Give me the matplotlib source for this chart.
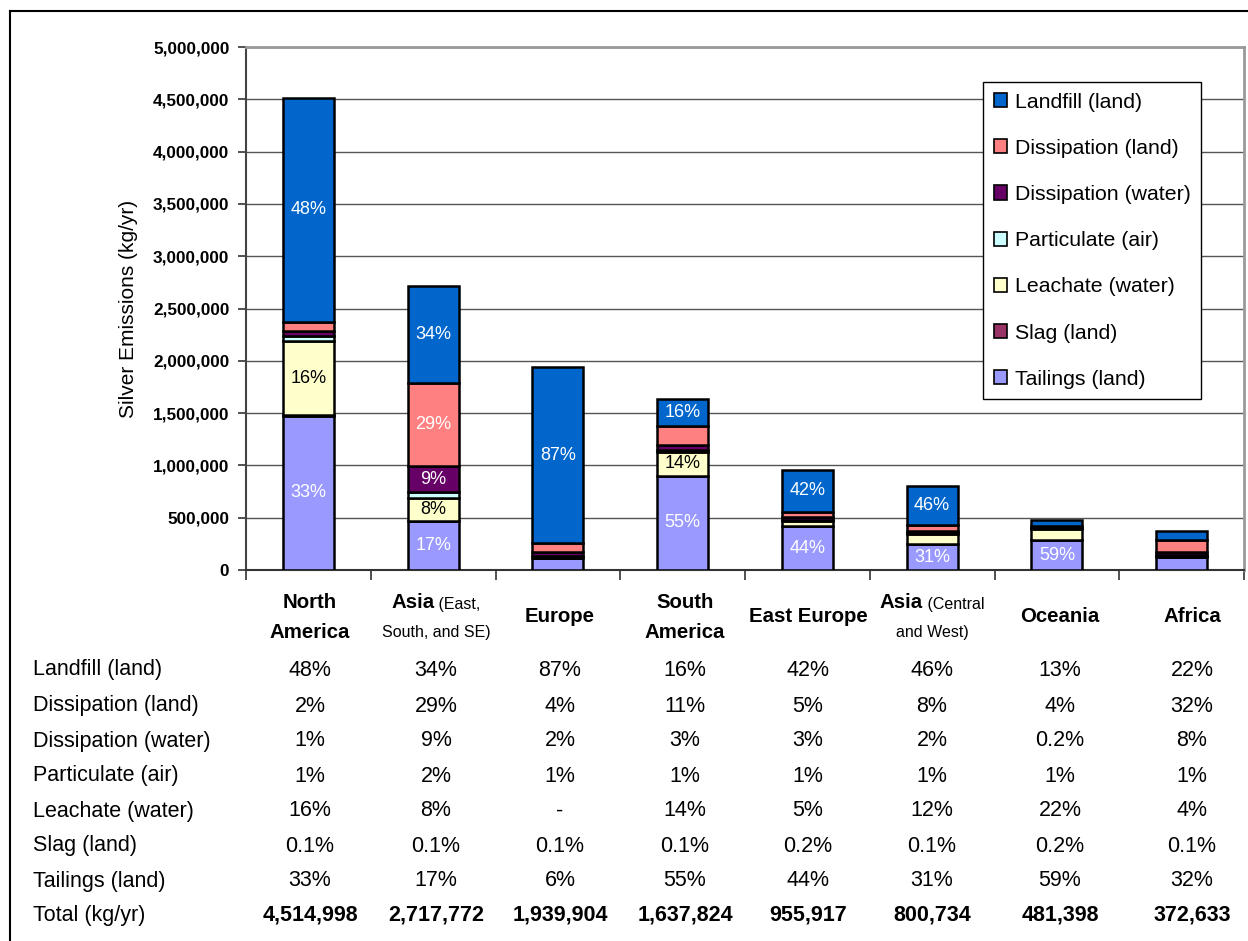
import matplotlib.pyplot as plt
from matplotlib.lines import Line2D
from matplotlib.ticker import FuncFormatter
import numpy as np

# data (percent of each region's total)
totals = [4514998, 2717772, 1939904, 1637824, 955917, 800734, 481398, 372633]
header_main = ['North\nAmerica', 'Asia', 'Europe', 'South\nAmerica', 'East Europe',
               'Asia', 'Oceania', 'Africa']
header_note = ['', '(East,\nSouth, and SE)', '', '', '', '(Central\nand West)', '', '']

landfill = [48, 34, 87, 16, 42, 46, 13, 22]
dissipation_land = [2, 29, 4, 11, 5, 8, 4, 32]
dissipation_water = [1, 9, 2, 3, 3, 2, 0.2, 8]
particulate = [1, 2, 1, 1, 1, 1, 1, 1]
leachate = [16, 8, 0, 14, 5, 12, 22, 4]
slag = [0.1, 0.1, 0.1, 0.1, 0.2, 0.1, 0.2, 0.1]
tailings = [33, 17, 6, 55, 44, 31, 59, 32]

# bottom to top
series = [
    ('Tailings (land)', tailings, '#9999FF', 'white'),
    ('Slag (land)', slag, '#993366', 'white'),
    ('Leachate (water)', leachate, '#FFFFCC', 'black'),
    ('Particulate (air)', particulate, '#CCFFFF', 'black'),
    ('Dissipation (water)', dissipation_water, '#660066', 'white'),
    ('Dissipation (land)', dissipation_land, '#FF8080', 'white'),
    ('Landfill (land)', landfill, '#0066CC', 'white'),
]

W, H = 1248, 941
fig = plt.figure(figsize=(W / 100, H / 100), dpi=100)
plt.rcParams['font.family'] = ['Liberation Sans', 'DejaVu Sans']

ax = fig.add_axes([246 / W, 1 - 570 / H, (1244 - 246) / W, (570 - 47) / H])

x = np.arange(len(totals))
pct = np.array([s[1] for s in series], dtype=float)
frac = pct / pct.sum(axis=0)
heights = frac * np.array(totals)

bottom = np.zeros(len(totals))
for (name, vals, color, tcol), h, p in zip(series, heights, pct):
    ax.bar(x, h, 0.41, bottom=bottom, color=color, edgecolor='black', linewidth=1.8,
           label=name, zorder=3)
    for i in range(len(x)):
        if h[i] >= 200000:
            ax.text(x[i], bottom[i] + h[i] / 2, f'{p[i]:g}%', ha='center', va='center',
                    color=tcol, fontsize=13, zorder=4)
    bottom += h

ax.set_xlim(-0.5, len(totals) - 0.5)
ax.set_ylim(0, 5000000)
ax.set_yticks(np.arange(0, 5000001, 500000))
ax.yaxis.set_major_formatter(FuncFormatter(lambda v, _: f'{int(v):,}'))
for lab in ax.get_yticklabels():
    lab.set_fontweight('bold')
    lab.set_fontsize(12.3)
ax.set_xticks(np.arange(-0.5, len(totals)))
ax.set_xticklabels([])
ax.tick_params(axis='x', length=7, width=1.2, color='#333333')
ax.tick_params(axis='y', length=6, width=1.2, color='#333333', pad=6)
ax.yaxis.grid(True, color='#555555', linewidth=1.0)
ax.set_axisbelow(True)
for side in ['top', 'right']:
    ax.spines[side].set_color('#999999')
    ax.spines[side].set_linewidth(2)
ax.spines['left'].set_color('#444444')
ax.spines['left'].set_linewidth(1.5)
ax.spines['bottom'].set_color('#333333')
ax.spines['bottom'].set_linewidth(1.5)
ax.set_ylabel('Silver Emissions (kg/yr)', fontsize=15, labelpad=11)

handles, labels = ax.get_legend_handles_labels()
leg = ax.legend(handles[::-1], labels[::-1], loc='upper left',
                bbox_to_anchor=(983 / W, 1 - 82 / H), bbox_transform=fig.transFigure,
                borderaxespad=0, fontsize=15.3, frameon=True, fancybox=False,
                edgecolor='black', framealpha=1, labelspacing=1.28, borderpad=0.5,
                handlelength=0.65, handleheight=0.65, handletextpad=0.35)
leg.get_frame().set_linewidth(1.0)
for p in leg.get_patches():
    p.set_linewidth(1.2)

# table below the chart
col_x = [310, 436, 560, 685, 808, 932, 1060, 1192]
row_y = [670, 706, 741, 776, 811, 846, 881]
fx = lambda px: px / W
fy = lambda py: 1 - py / H

fig.canvas.draw()
r = fig.canvas.get_renderer()
for cx, main, note in zip(col_x, header_main, header_note):
    if not note:
        lines = main.split('\n')
        ys = [617] if len(lines) == 1 else [602, 632]
        for ln, yy in zip(lines, ys):
            fig.text(fx(cx), fy(yy), ln, ha='center', va='center', fontsize=14.7,
                     fontweight='bold')
    else:
        n1, n2 = note.split('\n')
        t1 = fig.text(0, fy(602), main, ha='left', va='center', fontsize=14.7,
                      fontweight='bold')
        t2 = fig.text(0, fy(604), ' ' + n1, ha='left', va='center', fontsize=11.5)
        w1 = t1.get_window_extent(r).width
        w2 = t2.get_window_extent(r).width
        left = cx - (w1 + w2) / 2
        t1.set_x(fx(left))
        t2.set_x(fx(left + w1))
        fig.text(fx(cx), fy(632), n2, ha='center', va='center', fontsize=11.5)

row_names = [s[0] for s in series][::-1]
row_vals = [s[1] for s in series][::-1]
for name, vals, yy in zip(row_names, row_vals, row_y):
    fig.text(fx(33), fy(yy), name, ha='left', va='center', fontsize=15.5)
    for cx, v in zip(col_x, vals):
        txt = '-' if v == 0 else f'{v:g}%'
        fig.text(fx(cx), fy(yy), txt, ha='center', va='center', fontsize=15.5)
fig.text(fx(33), fy(915), 'Total (kg/yr)', ha='left', va='center', fontsize=15.5)
for cx, t in zip(col_x, totals):
    fig.text(fx(cx), fy(915), f'{t:,}', ha='center', va='center', fontsize=15.5,
             fontweight='bold')

# outer frame (top and left edges visible)
fig.add_artist(Line2D([fx(10), 1], [fy(11), fy(11)], transform=fig.transFigure,
                      color='black', linewidth=1.5))
fig.add_artist(Line2D([fx(10), fx(10)], [fy(11), 0], transform=fig.transFigure,
                      color='black', linewidth=1.5))

fig.savefig('out.png', dpi=100)
